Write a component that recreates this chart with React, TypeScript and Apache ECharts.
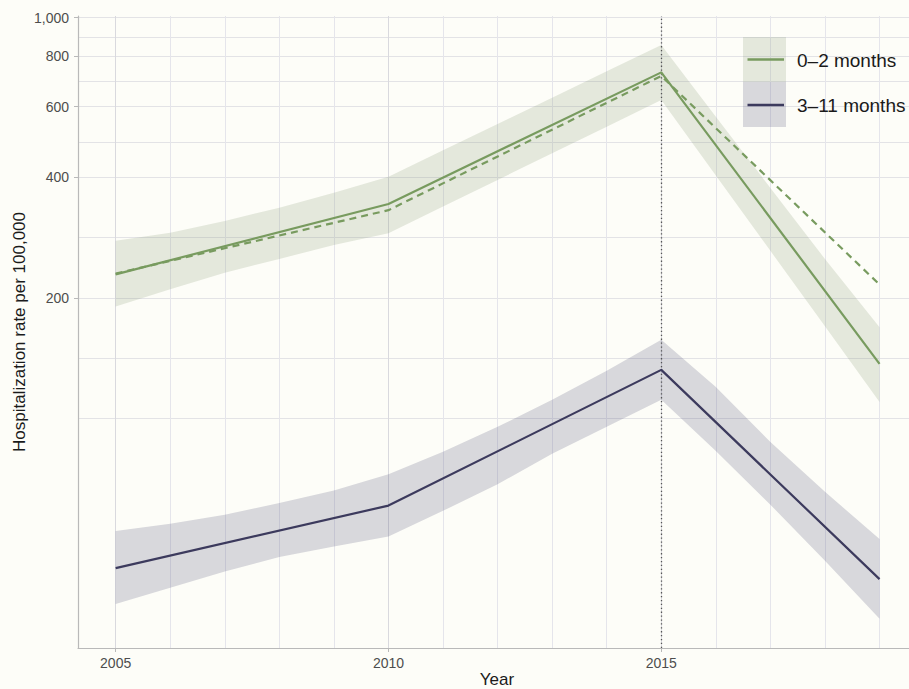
import React, { useEffect, useRef } from 'react';
import * as echarts from 'echarts';

// ---- data ----
const lineYears = [2005, 2010, 2015, 2019];
const rate02 = [229, 343, 730, 137];
const rate02Dashed = [230, 331, 715, 216];
const rate311 = [42.4, 60.7, 132.3, 39.8];

const bandYears = [2005, 2006, 2007, 2008, 2009, 2010, 2011, 2012, 2013, 2014, 2015, 2016, 2017, 2018, 2019];
const band02Upper = [277.8, 290.9, 311.1, 335.7, 365.9, 401.1, 466.6, 542.8, 631.0, 734.4, 854, 566, 376, 250, 169];
const band02Lower = [190.3, 210.2, 231.2, 250.1, 271.1, 290, 337.9, 393.6, 458.9, 534.5, 622.9, 404, 262, 170, 110];
const band311Upper = [52.5, 54.7, 57.6, 61.6, 66.2, 72.7, 82.7, 95.4, 111.4, 131.6, 157.2, 120.0, 87.5, 65.7, 50.1];
const band311Lower = [34.5, 37.9, 41.6, 45.2, 48.0, 50.8, 58.9, 68.6, 81.7, 95.4, 111.4, 83.1, 61.0, 44.2, 31.7];

const yLabelTicks = [200, 400, 600, 800, 1000];
const yGridValues = [100, 141.4, 200, 282.8, 400, 489.9, 600, 692.8, 800, 894.4, 1000];
const xLabelTicks = [2005, 2010, 2015];
const xGridYears = [2005, 2006, 2007, 2008, 2009, 2010, 2011, 2012, 2013, 2014, 2015, 2016, 2017, 2018, 2019];
const legendNames = ['0\u20132 months', '3\u201311 months'];
const xTitle = 'Year';
const yTitle = 'Hospitalization rate per 100,000';
const interventionYear = 2015;

const Y_MIN = 26.8;
const Y_MAX = 1009;
const X_MIN = 2004.31;
const X_MAX = 2019.54;

const BG = '#fdfdf8';
const GREEN = '#789b5f';
const PURPLE = '#3c3a5d';
const GREEN_BAND = 'rgba(128,150,108,0.2)';
const PURPLE_BAND = 'rgba(70,68,110,0.2)';
const FONT = '"Liberation Sans", Arial, Helvetica, sans-serif';

export default function App() {
  const ref = useRef<HTMLDivElement>(null);

  useEffect(() => {
    document.body.style.margin = '0';
    document.body.style.background = BG;
    const chart = echarts.init(ref.current!, null, { renderer: 'svg' });

    const pair = (xs: number[], ys: number[]) => xs.map((x, i) => [x, ys[i]]);
    const band = (id: string, upper: number[], lower: number[], color: string) => ({
      type: 'custom',
      name: id,
      xAxisIndex: 0,
      yAxisIndex: 0,
      silent: true,
      z: 1,
      data: bandYears.map((x, i) => [x, lower[i], upper[i]]),
      encode: { x: 0, y: [1, 2] },
      renderItem: (params: any, api: any) => {
        if (params.dataIndex !== 0) return null;
        const top = bandYears.map((x, i) => api.coord([x, upper[i]]));
        const bottom = bandYears.map((x, i) => api.coord([x, lower[i]])).reverse();
        return {
          type: 'polygon',
          shape: { points: top.concat(bottom) },
          style: { fill: color, stroke: 'none' },
          silent: true,
        };
      },
    });

    const axisLabelStyle = { color: '#4d4d4d', fontSize: 14, fontFamily: FONT };

    chart.setOption({
      animation: false,
      backgroundColor: BG,
      textStyle: { fontFamily: FONT },
      grid: { left: 78, right: 0, top: 16, bottom: 41, containLabel: false, outerBoundsMode: 'none' },
      xAxis: [
        {
          type: 'value',
          min: X_MIN,
          max: X_MAX,
          position: 'bottom',
          axisLine: { show: true, lineStyle: { color: '#b9b9b9', width: 1.2 } },
          axisTick: { show: false, customValues: xGridYears },
          axisLabel: { show: false },
          splitLine: { show: true, lineStyle: { color: '#e5e5eb', width: 1 } },
        },
        {
          type: 'value',
          min: X_MIN,
          max: X_MAX,
          position: 'bottom',
          axisLine: { show: false },
          axisTick: { show: true, customValues: xLabelTicks, length: 4, lineStyle: { color: '#b9b9b9' } },
          axisLabel: { show: true, customValues: xLabelTicks, margin: 8, ...axisLabelStyle, formatter: (v: number) => String(Math.round(v)) },
          splitLine: { show: true, lineStyle: { color: '#d9d9de', width: 1 } },
        },
      ],
      yAxis: [
        {
          type: 'log',
          min: Y_MIN,
          max: Y_MAX,
          position: 'left',
          axisLine: { show: false },
          axisTick: { show: false },
          axisLabel: { show: false },
          splitLine: { show: false },
          minorSplitLine: { show: false },
        },
        {
          type: 'value',
          min: Math.log10(Y_MIN),
          max: Math.log10(Y_MAX),
          position: 'left',
          axisLine: { show: true, lineStyle: { color: '#b9b9b9', width: 1.2 } },
          axisTick: { show: true, customValues: yGridValues.map((v) => Math.log10(v)), length: 0, lineStyle: { color: '#b9b9b9' } },
          axisLabel: { show: false },
          splitLine: { show: true, lineStyle: { color: '#e3e3e6', width: 1 } },
        },
        {
          type: 'value',
          min: Math.log10(Y_MIN),
          max: Math.log10(Y_MAX),
          position: 'left',
          axisLine: { show: false },
          axisTick: { show: true, customValues: yLabelTicks.map((v) => Math.log10(v)), length: 4, lineStyle: { color: '#b9b9b9' } },
          axisLabel: {
            show: true,
            customValues: yLabelTicks.map((v) => Math.log10(v)),
            margin: 9,
            ...axisLabelStyle,
            formatter: (v: number) => Math.round(Math.pow(10, v)).toLocaleString('en-US'),
          },
          splitLine: { show: false },
        },
      ],
      series: [
        band('band02', band02Upper, band02Lower, GREEN_BAND),
        band('band311', band311Upper, band311Lower, PURPLE_BAND),
        {
          type: 'line',
          name: legendNames[1],
          data: pair(lineYears, rate311),
          symbol: 'none',
          lineStyle: { color: PURPLE, width: 2.2 },
          xAxisIndex: 0,
          yAxisIndex: 0,
          z: 3,
          markLine: {
            silent: true,
            symbol: ['none', 'none'],
            label: { show: false },
            lineStyle: { color: '#555555', type: [1.3, 2.6], width: 1.3 },
            data: [{ xAxis: interventionYear }],
            z: 2,
          },
        },
        {
          type: 'line',
          name: legendNames[0] + ' (dashed)',
          data: pair(lineYears, rate02Dashed),
          symbol: 'none',
          lineStyle: { color: GREEN, width: 2.2, type: [7, 5] },
          xAxisIndex: 0,
          yAxisIndex: 0,
          z: 3,
        },
        {
          type: 'line',
          name: legendNames[0],
          data: pair(lineYears, rate02),
          symbol: 'none',
          lineStyle: { color: GREEN, width: 2.2 },
          xAxisIndex: 0,
          yAxisIndex: 0,
          z: 4,
        },
      ],
      graphic: [
        { type: 'rect', shape: { x: 743, y: 37, width: 43, height: 45 }, style: { fill: GREEN_BAND }, z: 10 },
        { type: 'rect', shape: { x: 743, y: 82, width: 43, height: 45 }, style: { fill: PURPLE_BAND }, z: 10 },
        { type: 'line', shape: { x1: 747.5, y1: 59.5, x2: 784, y2: 59.5 }, style: { stroke: GREEN, lineWidth: 2.4 }, z: 11 },
        { type: 'line', shape: { x1: 747.5, y1: 105, x2: 784, y2: 105 }, style: { stroke: PURPLE, lineWidth: 2.4 }, z: 11 },
        {
          type: 'text',
          x: 797,
          y: 60,
          style: { text: legendNames[0], fill: '#1a1a1a', font: '19px ' + FONT, textVerticalAlign: 'middle', verticalAlign: 'middle' },
          z: 11,
        },
        {
          type: 'text',
          x: 797,
          y: 105,
          style: { text: legendNames[1], fill: '#1a1a1a', font: '19px ' + FONT, textVerticalAlign: 'middle', verticalAlign: 'middle' },
          z: 11,
        },
        {
          type: 'text',
          x: 497,
          y: 679,
          style: { text: xTitle, fill: '#1a1a1a', font: '17px ' + FONT, align: 'center', textAlign: 'center', verticalAlign: 'middle', textVerticalAlign: 'middle' },
          z: 11,
        },
        {
          type: 'text',
          x: 19,
          y: 332,
          rotation: Math.PI / 2,
          style: { text: yTitle, fill: '#1a1a1a', font: '17px ' + FONT, align: 'center', textAlign: 'center', verticalAlign: 'middle', textVerticalAlign: 'middle' },
          z: 11,
        },
      ],
    });

    return () => chart.dispose();
  }, []);

  return <div ref={ref} style={{ width: 909, height: 689 }} />;
}
